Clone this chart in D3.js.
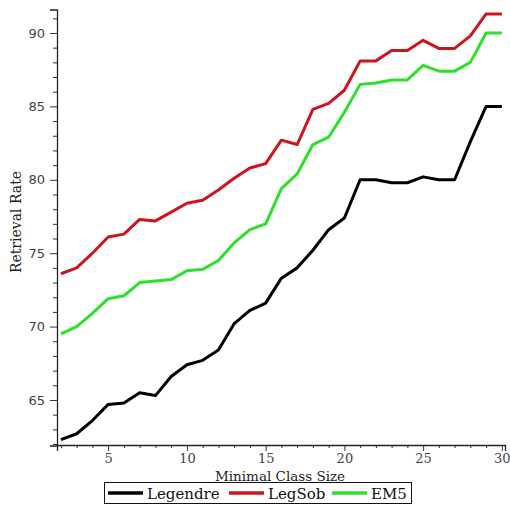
<!DOCTYPE html>
<html>
<head>
<meta charset="utf-8">
<script src="https://cdn.jsdelivr.net/npm/d3@7"></script>
<style>
  body { margin: 0; background: #fff; }
  svg { display: block; }
  .ylab { font-family: "DejaVu Sans", sans-serif; font-size: 13px; fill: #444; }
  .xlab { font-family: "DejaVu Serif", serif; font-size: 13px; fill: #444; }
  .ttl { font-family: "DejaVu Serif", serif; font-size: 13.5px; fill: #222; }
  .leg { font-family: "DejaVu Serif", serif; font-size: 15px; fill: #111; }
</style>
</head>
<body>
<svg id="chart" width="510" height="515"></svg>
<script>
// minimal class size on x
var classSizes = [2, 3, 4, 5, 6, 7, 8, 9, 10, 11, 12, 13, 14, 15, 16, 17, 18, 19, 20, 21, 22, 23, 24, 25, 26, 27, 28, 29, 30];

var legendre = [62.3, 62.7, 63.6, 64.7, 64.8, 65.5, 65.3, 66.6, 67.4, 67.7,
                68.4, 70.2, 71.1, 71.6, 73.3, 74.0, 75.2, 76.6, 77.4, 80.0,
                80.0, 79.8, 79.8, 80.2, 80.0, 80.0, 82.6, 85.0, 85.0];
var legSob   = [73.6, 74.0, 75.0, 76.1, 76.3, 77.3, 77.2, 77.8, 78.4, 78.6,
                79.3, 80.1, 80.8, 81.1, 82.7, 82.4, 84.8, 85.2, 86.1, 88.1,
                88.1, 88.8, 88.8, 89.5, 88.95, 88.95, 89.8, 91.3, 91.3];
var em5      = [69.5, 70.0, 70.9, 71.9, 72.1, 73.0, 73.1, 73.2, 73.8, 73.9,
                74.5, 75.7, 76.6, 77.0, 79.4, 80.4, 82.4, 82.9, 84.6, 86.5,
                86.6, 86.8, 86.8, 87.8, 87.4, 87.4, 88.0, 90.0, 90.0];

var seriesNames = ["Legendre", "LegSob", "EM5"];
var seriesColors = ["#000000", "#d0141e", "#2ee02e"];

var xMajor = [5, 10, 15, 20, 25, 30];
var yMajor = [65, 70, 75, 80, 85, 90];
var yMinor = [62, 63, 64, 66, 67, 68, 69, 71, 72, 73, 74, 76, 77, 78, 79, 81, 82, 83, 84, 86, 87, 88, 89, 91];

var svg = d3.select("#chart");

var x = d3.scaleLinear().domain([1.75, 30.2]).range([57, 505]);
var y = d3.scaleLinear().domain([61.9, 91.6]).range([445.5, 9.5]);

var allSeries = [legendre, legSob, em5].map(function(vals, i){
	return {name: seriesNames[i], color: seriesColors[i],
			points: vals.map(function(v, j){ return [classSizes[j], v]; })};
});

// axes: minor ticks first, then majors with labels
var yAxisMinor = d3.axisLeft(y).tickValues(yMinor).tickSize(4).tickFormat("");
svg.append("g").attr("transform", "translate(57,0)").call(yAxisMinor)
	.call(function(g){ g.select(".domain").remove(); });

var yAxis = d3.axisLeft(y).tickValues(yMajor).tickSize(7).tickPadding(5).tickFormat(d3.format("d"));
var gy = svg.append("g").attr("transform", "translate(57,0)").call(yAxis);
gy.selectAll("text").attr("class", "ylab").attr("font-family", null).attr("font-size", null).attr("fill", null);

var xAxisMinor = d3.axisBottom(x).tickValues(classSizes.filter(function(d){ return d % 5 !== 0; })).tickSize(3).tickFormat("");
svg.append("g").attr("transform", "translate(0,445)").call(xAxisMinor)
	.call(function(g){ g.select(".domain").remove(); });

var xAxis = d3.axisBottom(x).tickValues(xMajor).tickSize(6).tickPadding(3).tickFormat(d3.format("d"));
var gx = svg.append("g").attr("transform", "translate(0,445)").call(xAxis);
gx.selectAll("text").attr("class", "xlab").attr("font-family", null).attr("font-size", null).attr("fill", null);

svg.selectAll(".domain").attr("stroke", "#222").attr("stroke-width", 1.3);
svg.selectAll(".tick line").attr("stroke", "#333");

// lines
var line = d3.line()
	.x(function(d){ return x(d[0]); })
	.y(function(d){ return y(d[1]); });

svg.append("g").selectAll("path.series")
	.data(allSeries)
	.enter().append("path")
		.attr("class", "series")
		.attr("d", function(d){ return line(d.points); })
		.attr("fill", "none")
		.attr("stroke", function(d){ return d.color; })
		.attr("stroke-width", 3)
		.attr("stroke-linejoin", "round")
		.attr("stroke-linecap", "butt");

// axis titles
svg.append("text")
	.attr("class", "ttl")
	.attr("x", 280).attr("y", 481)
	.attr("text-anchor", "middle")
	.text("Minimal Class Size");

svg.append("text")
	.attr("class", "ttl")
	.attr("transform", "translate(21,222) rotate(-90)")
	.attr("text-anchor", "middle")
	.style("font-size", "14px")
	.text("Retrieval Rate");

// legend
var legX = [108, 229, 332];
var lg = svg.append("g");
lg.append("rect")
	.attr("x", 104.5).attr("y", 482.5)
	.attr("width", 307).attr("height", 21)
	.attr("fill", "#fff").attr("stroke", "#111").attr("stroke-width", 1);

var items = lg.selectAll("g.item").data(allSeries).enter().append("g")
	.attr("class", "item")
	.attr("transform", function(d, i){ return "translate(" + legX[i] + ",493)"; });
items.append("line")
	.attr("x1", 0).attr("x2", 35).attr("y1", 0).attr("y2", 0)
	.attr("stroke", function(d){ return d.color; })
	.attr("stroke-width", 3.5);
items.append("text")
	.attr("class", "leg")
	.attr("x", 39).attr("y", 5.5)
	.text(function(d){ return d.name; });
</script>
</body>
</html>
